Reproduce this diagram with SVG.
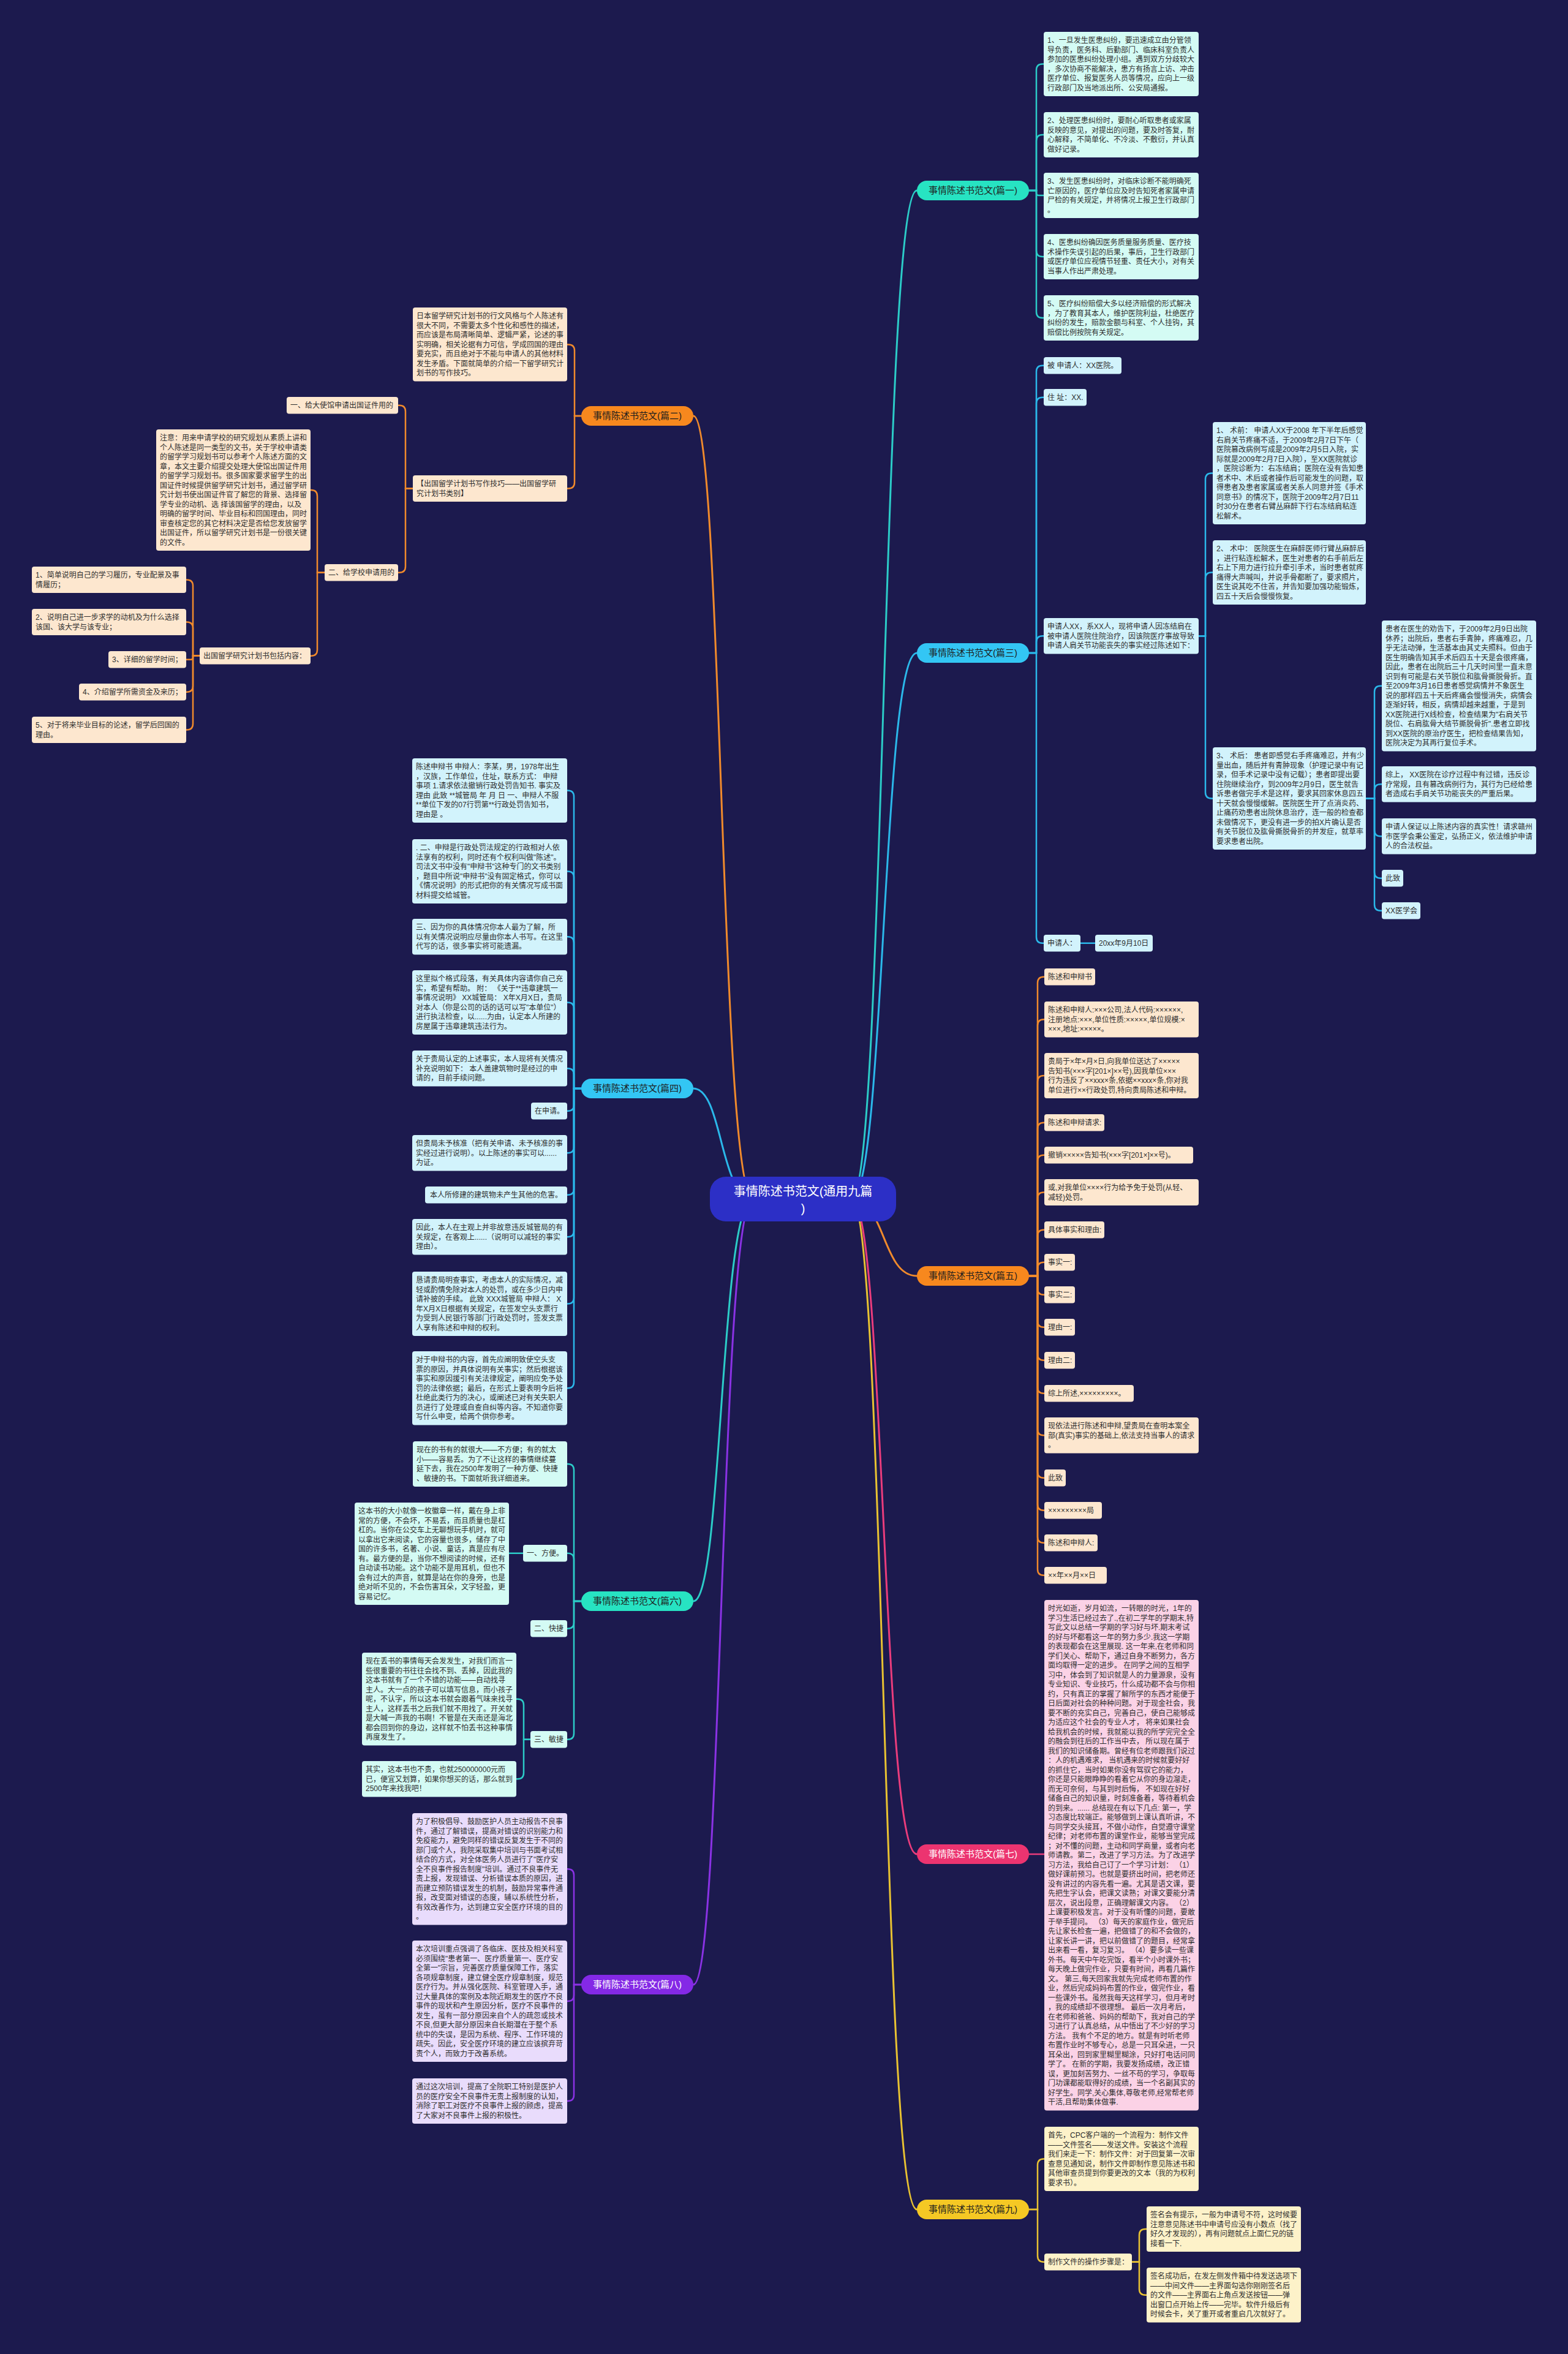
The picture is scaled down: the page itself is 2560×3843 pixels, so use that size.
<svg xmlns="http://www.w3.org/2000/svg" width="2560" height="3843" viewBox="0 0 2560 3843">
<style>
text{font-family:"Liberation Sans","Noto Sans CJK SC",sans-serif}
.t{font-size:12px;fill:#2e2e2e}
.pt{font-size:15px;text-anchor:middle;fill:#1e1e1e}
.pw{fill:#ffffff}
.ct{font-size:20px;text-anchor:middle;fill:#ffffff}
.c{fill:none;stroke-width:2.5;stroke-linecap:round}
.m{fill:none;stroke-width:3;stroke-linecap:round}
.so{stroke:#f08a2c}.sb{stroke:#2bb8ea}.sm{stroke:#2cccc8}.sp{stroke:#ea3c7c}.sv{stroke:#8a32e4}.sy{stroke:#e8c232}
.lo{fill:#fde7cf}.lb{fill:#d2f3fc}.lm{fill:#d4fbf4}.lp{fill:#fbd2e6}.lv{fill:#e9dcfc}.ly{fill:#fdf2c9}
.po{fill:#f7881e}.pb{fill:#33c6f4}.pm{fill:#27e3c2}.pp{fill:#ec3470}.pv{fill:#8429e6}.py{fill:#f5c824}
</style>
<rect width="2560" height="3843" fill="#1c1a4e"/>

<g id="connectors">
<!-- main branches -->
<path class="m sm" d="M1390 1957 C1445 1957 1440 311 1497 311"/>
<path class="m sb" d="M1390 1957 C1445 1957 1440 1066 1497 1066"/>
<path class="m so" d="M1390 1957 C1445 1957 1440 2083 1497 2083"/>
<path class="m sp" d="M1390 1957 C1445 1957 1440 3027 1497 3027"/>
<path class="m sy" d="M1390 1957 C1445 1957 1440 3607 1497 3607"/>
<path class="m so" d="M1230 1957 C1175 1957 1180 679 1132 679"/>
<path class="m sb" d="M1230 1957 C1175 1957 1180 1777 1132 1777"/>
<path class="m sm" d="M1230 1957 C1175 1957 1180 2614 1132 2614"/>
<path class="m sv" d="M1230 1957 C1175 1957 1180 3240 1132 3240"/>

<!-- 篇一 -->
<path class="c sm" d="M1680 311 H1692 V114.5 Q1692 104.5 1702 104.5 H1704"/>
<path class="c sm" d="M1680 311 H1692 V230 Q1692 220 1702 220 H1704"/>
<path class="c sm" d="M1680 311 H1692 V315 Q1692 319 1696 319 H1704"/>
<path class="c sm" d="M1680 311 H1692 V409 Q1692 419 1702 419 H1704"/>
<path class="c sm" d="M1680 311 H1692 V509 Q1692 519 1702 519 H1704"/>

<!-- 篇二 -->
<path class="c so" d="M949 679 H938 V572.5 Q938 562.5 928 562.5 H926"/>
<path class="c so" d="M949 679 H938 V787.5 Q938 797.5 928 797.5 H926"/>
<path class="c so" d="M674 797.5 H662 V671.75 Q662 661.75 652 661.75 H650"/>
<path class="c so" d="M674 797.5 H662 V924.75 Q662 934.75 652 934.75 H650"/>
<path class="c so" d="M530 934.75 H518 V810 Q518 800 508 800 H507"/>
<path class="c so" d="M530 934.75 H518 V1060.75 Q518 1070.75 508 1070.75 H507"/>
<path class="c so" d="M326 1070.75 H315 V956.5 Q315 946.5 305 946.5 H304"/>
<path class="c so" d="M326 1070.75 H315 V1025.5 Q315 1015.5 305 1015.5 H304"/>
<path class="c so" d="M326 1070.75 H315 V1073.75 Q315 1076.75 312 1076.75 H304"/>
<path class="c so" d="M326 1070.75 H315 V1119.75 Q315 1129.75 305 1129.75 H304"/>
<path class="c so" d="M326 1070.75 H315 V1181.5 Q315 1191.5 305 1191.5 H304"/>

<!-- 篇三 -->
<path class="c sb" d="M1680 1066 H1692 V606.75 Q1692 596.75 1702 596.75 H1704"/>
<path class="c sb" d="M1680 1066 H1692 V658.75 Q1692 648.75 1702 648.75 H1704"/>
<path class="c sb" d="M1680 1066 H1692 V1048.25 Q1692 1038.25 1702 1038.25 H1704"/>
<path class="c sb" d="M1680 1066 H1692 V1529.75 Q1692 1539.75 1702 1539.75 H1704"/>
<path class="c sb" d="M1764 1539.75 H1788"/>
<path class="c sb" d="M1957 1038.25 H1968 V782.5 Q1968 772.5 1978 772.5 H1980"/>
<path class="c sb" d="M1957 1038.25 H1968 V944.5 Q1968 934.5 1978 934.5 H1980"/>
<path class="c sb" d="M1957 1038.25 H1968 V1293.5 Q1968 1303.5 1978 1303.5 H1980"/>
<path class="c sb" d="M2230 1303.5 H2244 V1129.75 Q2244 1119.75 2254 1119.75 H2256"/>
<path class="c sb" d="M2230 1303.5 H2244 V1290.25 Q2244 1280.25 2254 1280.25 H2256"/>
<path class="c sb" d="M2230 1303.5 H2244 V1355.25 Q2244 1365.25 2254 1365.25 H2256"/>
<path class="c sb" d="M2230 1303.5 H2244 V1423.75 Q2244 1433.75 2254 1433.75 H2256"/>
<path class="c sb" d="M2230 1303.5 H2244 V1476.75 Q2244 1486.75 2254 1486.75 H2256"/>

<!-- 篇四 -->
<path class="c sb" d="M949 1777 H937 V1300.5 Q937 1290.5 927 1290.5 H926"/>
<path class="c sb" d="M949 1777 H937 V1432.5 Q937 1422.5 927 1422.5 H926"/>
<path class="c sb" d="M949 1777 H937 V1539.25 Q937 1529.25 927 1529.25 H926"/>
<path class="c sb" d="M949 1777 H937 V1646.5 Q937 1636.5 927 1636.5 H926"/>
<path class="c sb" d="M949 1777 H937 V1754.25 Q937 1744.25 927 1744.25 H926"/>
<path class="c sb" d="M949 1777 H937 V1803.75 Q937 1813.75 927 1813.75 H926"/>
<path class="c sb" d="M949 1777 H937 V1872.25 Q937 1882.25 927 1882.25 H926"/>
<path class="c sb" d="M949 1777 H937 V1940.75 Q937 1950.75 927 1950.75 H926"/>
<path class="c sb" d="M949 1777 H937 V2009.25 Q937 2019.25 927 2019.25 H926"/>
<path class="c sb" d="M949 1777 H937 V2118.5 Q937 2128.5 927 2128.5 H926"/>
<path class="c sb" d="M949 1777 H937 V2256.25 Q937 2266.25 927 2266.25 H926"/>

<!-- 篇五 -->
<path class="c so" d="M1680 2083 H1694 V1604.75 Q1694 1594.75 1704 1594.75 H1705"/>
<path class="c so" d="M1680 2083 H1694 V1674.25 Q1694 1664.25 1704 1664.25 H1705"/>
<path class="c so" d="M1680 2083 H1694 V1766 Q1694 1756 1704 1756 H1705"/>
<path class="c so" d="M1680 2083 H1694 V1842.75 Q1694 1832.75 1704 1832.75 H1705"/>
<path class="c so" d="M1680 2083 H1694 V1895.75 Q1694 1885.75 1704 1885.75 H1705"/>
<path class="c so" d="M1680 2083 H1694 V1956.5 Q1694 1946.5 1704 1946.5 H1705"/>
<path class="c so" d="M1680 2083 H1694 V2017.75 Q1694 2007.75 1704 2007.75 H1705"/>
<path class="c so" d="M1680 2083 H1694 V2070.75 Q1694 2060.75 1704 2060.75 H1705"/>
<path class="c so" d="M1680 2083 H1694 V2103.75 Q1694 2113.75 1704 2113.75 H1705"/>
<path class="c so" d="M1680 2083 H1694 V2156.75 Q1694 2166.75 1704 2166.75 H1705"/>
<path class="c so" d="M1680 2083 H1694 V2210.75 Q1694 2220.75 1704 2220.75 H1705"/>
<path class="c so" d="M1680 2083 H1694 V2264.75 Q1694 2274.75 1704 2274.75 H1705"/>
<path class="c so" d="M1680 2083 H1694 V2333.25 Q1694 2343.25 1704 2343.25 H1705"/>
<path class="c so" d="M1680 2083 H1694 V2402.75 Q1694 2412.75 1704 2412.75 H1705"/>
<path class="c so" d="M1680 2083 H1694 V2455.75 Q1694 2465.75 1704 2465.75 H1705"/>
<path class="c so" d="M1680 2083 H1694 V2508.75 Q1694 2518.75 1704 2518.75 H1705"/>
<path class="c so" d="M1680 2083 H1694 V2561.75 Q1694 2571.75 1704 2571.75 H1705"/>

<!-- 篇六 -->
<path class="c sm" d="M949 2614 H937 V2400 Q937 2390 927 2390 H926"/>
<path class="c sm" d="M949 2614 H937 V2545.75 Q937 2535.75 927 2535.75 H926"/>
<path class="c sm" d="M949 2614 H937 V2648.75 Q937 2658.75 927 2658.75 H926"/>
<path class="c sm" d="M949 2614 H937 V2829.75 Q937 2839.75 927 2839.75 H926"/>
<path class="c sm" d="M854 2535.75 H831"/>
<path class="c sm" d="M866 2839.75 H855 V2783.75 Q855 2773.75 845 2773.75 H843"/>
<path class="c sm" d="M866 2839.75 H855 V2894.25 Q855 2904.25 845 2904.25 H843"/>

<!-- 篇七 -->
<path class="c sp" d="M1680 3027 H1705"/>

<!-- 篇八 -->
<path class="c sv" d="M949 3240 H937 V3061.25 Q937 3051.25 927 3051.25 H926"/>
<path class="c sv" d="M949 3240 H937 V3257 Q937 3267 927 3267 H926"/>
<path class="c sv" d="M949 3240 H937 V3420 Q937 3430 927 3430 H926"/>

<!-- 篇九 -->
<path class="c sy" d="M1680 3607 H1694 V3534.5 Q1694 3524.5 1704 3524.5 H1705"/>
<path class="c sy" d="M1680 3607 H1694 V3682.75 Q1694 3692.75 1704 3692.75 H1705"/>
<path class="c sy" d="M1848 3692.75 H1860 V3649 Q1860 3639 1870 3639 H1872"/>
<path class="c sy" d="M1848 3692.75 H1860 V3736.75 Q1860 3746.75 1870 3746.75 H1872"/>
</g>

<!-- center -->
<g id="center">
<rect x="1159" y="1921" width="304" height="73" rx="26" fill="#2c2fc6"/>
<text class="ct" x="1311" y="1952">事情陈述书范文(通用九篇</text>
<text class="ct" x="1311" y="1980">)</text>
</g>

<!-- ===== 篇一 ===== -->
<g id="b1">
<rect class="pm" x="1497" y="295" width="183" height="32" rx="16"/>
<text class="pt" x="1588.5" y="316">事情陈述书范文(篇一)</text>
</g>
<g id="b1-1">
<rect class="lm" x="1704" y="52" width="253" height="105" rx="4"/>
<text class="t" y="70"><tspan x="1710">1、一旦发生医患纠纷，要迅速成立由分管领</tspan><tspan x="1710" dy="15.5">导负责，医务科、后勤部门、临床科室负责人</tspan><tspan x="1710" dy="15.5">参加的医患纠纷处理小组。遇到双方分歧较大</tspan><tspan x="1710" dy="15.5">，多次协商不能解决，患方有扬言上访、冲击</tspan><tspan x="1710" dy="15.5">医疗单位、报复医务人员等情况，应向上一级</tspan><tspan x="1710" dy="15.5">行政部门及当地派出所、公安局通报。</tspan></text>
</g>
<g id="b1-2">
<rect class="lm" x="1704" y="183" width="253" height="74" rx="4"/>
<text class="t" y="201"><tspan x="1710">2、处理医患纠纷时，要耐心听取患者或家属</tspan><tspan x="1710" dy="15.5">反映的意见，对提出的问题，要及时答复，耐</tspan><tspan x="1710" dy="15.5">心解释，不简单化、不冷淡、不敷衍，并认真</tspan><tspan x="1710" dy="15.5">做好记录。</tspan></text>
</g>
<g id="b1-3">
<rect class="lm" x="1704" y="282" width="253" height="74" rx="4"/>
<text class="t" y="300"><tspan x="1710">3、发生医患纠纷时，对临床诊断不能明确死</tspan><tspan x="1710" dy="15.5">亡原因的，医疗单位应及时告知死者家属申请</tspan><tspan x="1710" dy="15.5">尸检的有关规定，并将情况上报卫生行政部门</tspan><tspan x="1710" dy="15.5">。</tspan></text>
</g>
<g id="b1-4">
<rect class="lm" x="1704" y="382" width="253" height="74" rx="4"/>
<text class="t" y="400"><tspan x="1710">4、医患纠纷确因医务质量服务质量、医疗技</tspan><tspan x="1710" dy="15.5">术操作失误引起的后果，事后，卫生行政部门</tspan><tspan x="1710" dy="15.5">或医疗单位应视情节轻重、责任大小，对有关</tspan><tspan x="1710" dy="15.5">当事人作出严肃处理。</tspan></text>
</g>
<g id="b1-5">
<rect class="lm" x="1704" y="482" width="253" height="74" rx="4"/>
<text class="t" y="500"><tspan x="1710">5、医疗纠纷赔偿大多以经济赔偿的形式解决</tspan><tspan x="1710" dy="15.5">，为了教育其本人，维护医院利益，杜绝医疗</tspan><tspan x="1710" dy="15.5">纠纷的发生，赔款金额与科室、个人挂钩，其</tspan><tspan x="1710" dy="15.5">赔偿比例按院有关规定。</tspan></text>
</g>

<!-- ===== 篇二 ===== -->
<g id="b2">
<rect class="po" x="949" y="663" width="183" height="32" rx="16"/>
<text class="pt" x="1040.5" y="684">事情陈述书范文(篇二)</text>
</g>
<g id="b2-a">
<rect class="lo" x="674" y="502" width="252" height="120.5" rx="4"/>
<text class="t" y="520"><tspan x="680">日本留学研究计划书的行文风格与个人陈述有</tspan><tspan x="680" dy="15.5">很大不同，不需要太多个性化和感性的描述，</tspan><tspan x="680" dy="15.5">而应该是布局清晰简单、逻辑严紧，论述的事</tspan><tspan x="680" dy="15.5">实明确，相关论据有力可信，学成回国的理由</tspan><tspan x="680" dy="15.5">要充实，而且绝对于不能与申请人的其他材料</tspan><tspan x="680" dy="15.5">发生矛盾。下面就简单的介绍一下留学研究计</tspan><tspan x="680" dy="15.5">划书的写作技巧。</tspan></text>
</g>
<g id="b2-b">
<rect class="lo" x="674" y="776" width="252" height="43" rx="4"/>
<text class="t" y="794"><tspan x="680">【出国留学计划书写作技巧——出国留学研</tspan><tspan x="680" dy="15.5">究计划书类别】</tspan></text>
</g>
<g id="b2-b1">
<rect class="lo" x="468" y="648" width="182" height="27.5" rx="4"/>
<text class="t" x="474" y="666">一、给大使馆申请出国证件用的</text>
</g>
<g id="b2-b2">
<rect class="lo" x="530" y="921" width="120" height="27.5" rx="4"/>
<text class="t" x="536" y="939">二、给学校申请用的</text>
</g>
<g id="b2-c">
<rect class="lo" x="255" y="701" width="252" height="198" rx="4"/>
<text class="t" y="719"><tspan x="261">注意：用来申请学校的研究规划从素质上讲和</tspan><tspan x="261" dy="15.5">个人陈述是同一类型的文书，关于学校申请类</tspan><tspan x="261" dy="15.5">的留学学习规划书可以参考个人陈述方面的文</tspan><tspan x="261" dy="15.5">章，本文主要介绍提交处理大使馆出国证件用</tspan><tspan x="261" dy="15.5">的留学学习规划书。很多国家要求留学生的出</tspan><tspan x="261" dy="15.5">国证件时候提供留学研究计划书，通过留学研</tspan><tspan x="261" dy="15.5">究计划书使出国证件官了解您的背景、选择留</tspan><tspan x="261" dy="15.5">学专业的动机、选 择该国留学的理由，以及</tspan><tspan x="261" dy="15.5">明确的留学时间、毕业目标和回国理由，同时</tspan><tspan x="261" dy="15.5">审查核定您的其它材料决定是否给您发放留学</tspan><tspan x="261" dy="15.5">出国证件，所以留学研究计划书是一份很关键</tspan><tspan x="261" dy="15.5">的文件。</tspan></text>
</g>
<g id="b2-d">
<rect class="lo" x="326" y="1057" width="181" height="27.5" rx="4"/>
<text class="t" x="332" y="1075">出国留学研究计划书包括内容：</text>
</g>
<g id="b2-d1">
<rect class="lo" x="52" y="925" width="252" height="43" rx="4"/>
<text class="t" y="943"><tspan x="58">1、简单说明自己的学习履历，专业配景及事</tspan><tspan x="58" dy="15.5">情履历；</tspan></text>
</g>
<g id="b2-d2">
<rect class="lo" x="52" y="994" width="252" height="43" rx="4"/>
<text class="t" y="1012"><tspan x="58">2、说明自己进一步求学的动机及为什么选择</tspan><tspan x="58" dy="15.5">该国、该大学与该专业；</tspan></text>
</g>
<g id="b2-d3">
<rect class="lo" x="177" y="1063" width="127" height="27.5" rx="4"/>
<text class="t" x="183" y="1081">3、详细的留学时间；</text>
</g>
<g id="b2-d4">
<rect class="lo" x="129" y="1116" width="175" height="27.5" rx="4"/>
<text class="t" x="135" y="1134">4、介绍留学所需资金及来历；</text>
</g>
<g id="b2-d5">
<rect class="lo" x="52" y="1170" width="252" height="43" rx="4"/>
<text class="t" y="1188"><tspan x="58">5、对于将来毕业目标的论述，留学后回国的</tspan><tspan x="58" dy="15.5">理由。</tspan></text>
</g>

<!-- ===== 篇三 ===== -->
<g id="b3">
<rect class="pb" x="1497" y="1050" width="183" height="32" rx="16"/>
<text class="pt" x="1588.5" y="1071">事情陈述书范文(篇三)</text>
</g>
<g id="b3-1">
<rect class="lb" x="1704" y="583" width="127" height="27.5" rx="4"/>
<text class="t" x="1710" y="601">被 申请人：XX医院。</text>
</g>
<g id="b3-2">
<rect class="lb" x="1704" y="635" width="70" height="27.5" rx="4"/>
<text class="t" x="1710" y="653">住 址：XX.</text>
</g>
<g id="b3-3">
<rect class="lb" x="1704" y="1009" width="253" height="58.5" rx="4"/>
<text class="t" y="1027"><tspan x="1710">申请人XX，系XX人，现将申请人因冻结肩在</tspan><tspan x="1710" dy="15.5">被申请人医院住院治疗，因该院医疗事故导致</tspan><tspan x="1710" dy="15.5">申请人肩关节功能丧失的事实经过陈述如下：</tspan></text>
</g>
<g id="b3-4">
<rect class="lb" x="1704" y="1526" width="60" height="27.5" rx="4"/>
<text class="t" x="1710" y="1544">申请人：</text>
</g>
<g id="b3-5">
<rect class="lb" x="1788" y="1526" width="94" height="27.5" rx="4"/>
<text class="t" x="1794" y="1544">20xx年9月10日</text>
</g>
<g id="b3-6">
<rect class="lb" x="1980" y="689" width="250" height="167" rx="4"/>
<text class="t" y="707"><tspan x="1986">1、 术前： 申请人XX于2008 年下半年后感觉</tspan><tspan x="1986" dy="15.5">右肩关节疼痛不适，于2009年2月7日下午（</tspan><tspan x="1986" dy="15.5">医院篡改病例写成是2009年2月5日入院，实</tspan><tspan x="1986" dy="15.5">际就是2009年2月7日入院），至XX医院就诊</tspan><tspan x="1986" dy="15.5">，医院诊断为：右冻结肩；医院在没有告知患</tspan><tspan x="1986" dy="15.5">者术中、术后或者操作后可能发生的问题，取</tspan><tspan x="1986" dy="15.5">得患者及患者家属或者关系人同意并签《手术</tspan><tspan x="1986" dy="15.5">同意书》的情况下，医院于2009年2月7日11</tspan><tspan x="1986" dy="15.5">时30分在患者右臂丛麻醉下行右冻结肩粘连</tspan><tspan x="1986" dy="15.5">松解术。</tspan></text>
</g>
<g id="b3-7">
<rect class="lb" x="1980" y="882" width="250" height="105" rx="4"/>
<text class="t" y="900"><tspan x="1986">2、 术中： 医院医生在麻醉医师行臂丛麻醉后</tspan><tspan x="1986" dy="15.5">，进行粘连松解术，医生对患者的右手前后左</tspan><tspan x="1986" dy="15.5">右上下用力进行拉升牵引手术，当时患者就疼</tspan><tspan x="1986" dy="15.5">痛得大声喊叫，并说手骨都断了，要求照片，</tspan><tspan x="1986" dy="15.5">医生说其吃不住苦，并告知要加强功能锻炼，</tspan><tspan x="1986" dy="15.5">四五十天后会慢慢恢复。</tspan></text>
</g>
<g id="b3-8">
<rect class="lb" x="1980" y="1220" width="250" height="167" rx="4"/>
<text class="t" y="1238"><tspan x="1986">3、 术后： 患者即感觉右手疼痛难忍，并有少</tspan><tspan x="1986" dy="15.5">量出血，随后并有青肿现象（护理记录中有记</tspan><tspan x="1986" dy="15.5">录，但手术记录中没有记载）；患者即提出要</tspan><tspan x="1986" dy="15.5">住院继续治疗，到2009年2月9日，医生就告</tspan><tspan x="1986" dy="15.5">诉患者做完手术是这样，要求其回家休息四五</tspan><tspan x="1986" dy="15.5">十天就会慢慢缓解。医院医生开了点消炎药、</tspan><tspan x="1986" dy="15.5">止痛药劝患者出院休息治疗，连一般的检查都</tspan><tspan x="1986" dy="15.5">未做情况下，更没有进一步的拍X片确认是否</tspan><tspan x="1986" dy="15.5">有关节脱位及肱骨撕脱骨折的并发症，就草率</tspan><tspan x="1986" dy="15.5">要求患者出院。</tspan></text>
</g>
<g id="b3-9">
<rect class="lb" x="2256" y="1013" width="252" height="213.5" rx="4"/>
<text class="t" y="1031"><tspan x="2262">患者在医生的劝告下，于2009年2月9日出院</tspan><tspan x="2262" dy="15.5">休养；出院后，患者右手青肿，疼痛难忍，几</tspan><tspan x="2262" dy="15.5">乎无法动弹，生活基本由其丈夫照料。但由于</tspan><tspan x="2262" dy="15.5">医生明确告知其手术后四五十天是会很疼痛，</tspan><tspan x="2262" dy="15.5">因此，患者在出院后三十几天时间里一直未意</tspan><tspan x="2262" dy="15.5">识到有可能是右关节脱位和肱骨撕脱骨折。直</tspan><tspan x="2262" dy="15.5">至2009年3月16日患者感觉病情并不象医生</tspan><tspan x="2262" dy="15.5">说的那样四五十天后疼痛会慢慢消失，病情会</tspan><tspan x="2262" dy="15.5">逐渐好转，相反，病情却越来越重，于是到</tspan><tspan x="2262" dy="15.5">XX医院进行X线检查，检查结果为"右肩关节</tspan><tspan x="2262" dy="15.5">脱位、右肩肱骨大结节撕脱骨折".患者立即找</tspan><tspan x="2262" dy="15.5">到XX医院的原治疗医生，把检查结果告知，</tspan><tspan x="2262" dy="15.5">医院决定为其再行复位手术。</tspan></text>
</g>
<g id="b3-10">
<rect class="lb" x="2256" y="1251" width="252" height="58.5" rx="4"/>
<text class="t" y="1269"><tspan x="2262">综上， XX医院在诊疗过程中有过错，违反诊</tspan><tspan x="2262" dy="15.5">疗常规，且有篡改病例行为，其行为已经给患</tspan><tspan x="2262" dy="15.5">者造成右手肩关节功能丧失的严重后果。</tspan></text>
</g>
<g id="b3-11">
<rect class="lb" x="2256" y="1336" width="252" height="58.5" rx="4"/>
<text class="t" y="1354"><tspan x="2262">申请人保证以上陈述内容的真实性！请求赣州</tspan><tspan x="2262" dy="15.5">市医学会秉公鉴定，弘扬正义，依法维护申请</tspan><tspan x="2262" dy="15.5">人的合法权益。</tspan></text>
</g>
<g id="b3-12">
<rect class="lb" x="2256" y="1420" width="35" height="27.5" rx="4"/>
<text class="t" x="2262" y="1438">此致</text>
</g>
<g id="b3-13">
<rect class="lb" x="2256" y="1473" width="63" height="27.5" rx="4"/>
<text class="t" x="2262" y="1491">XX医学会</text>
</g>

<!-- ===== 篇四 ===== -->
<g id="b4">
<rect class="pb" x="949" y="1761" width="183" height="32" rx="16"/>
<text class="pt" x="1040.5" y="1782">事情陈述书范文(篇四)</text>
</g>
<g id="b4-1">
<rect class="lb" x="673" y="1238" width="253" height="105" rx="4"/>
<text class="t" y="1256"><tspan x="679"> 陈述申辩书 申辩人：李某，男，1978年出生</tspan><tspan x="679" dy="15.5">，汉族，工作单位，住址，联系方式： 申辩</tspan><tspan x="679" dy="15.5">事项 1.请求依法撤销行政处罚告知书. 事实及</tspan><tspan x="679" dy="15.5">理由 此致 **城管局 年 月 日 一、申辩人不服</tspan><tspan x="679" dy="15.5">**单位下发的07行罚第**行政处罚告知书，</tspan><tspan x="679" dy="15.5">理由是 。</tspan></text>
</g>
<g id="b4-2">
<rect class="lb" x="673" y="1370" width="253" height="105" rx="4"/>
<text class="t" y="1388"><tspan x="679">. 二、申辩是行政处罚法规定的行政相对人依</tspan><tspan x="679" dy="15.5">法享有的权利，同时还有个权利叫做"陈述"。</tspan><tspan x="679" dy="15.5">司法文书中没有"申辩书"这种专门的文书类别</tspan><tspan x="679" dy="15.5">，题目中所说"申辩书"没有固定格式，你可以</tspan><tspan x="679" dy="15.5">《情况说明》的形式把你的有关情况写成书面</tspan><tspan x="679" dy="15.5">材料提交给城管。</tspan></text>
</g>
<g id="b4-3">
<rect class="lb" x="673" y="1500" width="253" height="58.5" rx="4"/>
<text class="t" y="1518"><tspan x="679"> 三、因为你的具体情况你本人最为了解，所</tspan><tspan x="679" dy="15.5">以有关情况说明应尽量由你本人书写。在这里</tspan><tspan x="679" dy="15.5">代写的话，很多事实将可能遗漏。</tspan></text>
</g>
<g id="b4-4">
<rect class="lb" x="673" y="1584" width="253" height="105" rx="4"/>
<text class="t" y="1602"><tspan x="679">这里拟个格式段落，有关具体内容请你自己充</tspan><tspan x="679" dy="15.5">实，希望有帮助。 附： 《关于**违章建筑一</tspan><tspan x="679" dy="15.5">事情况说明》 XX城管局： X年X月X日，贵局</tspan><tspan x="679" dy="15.5">对本人（你是公司的话的话可以写"本单位"）</tspan><tspan x="679" dy="15.5">进行执法检查，以......为由，认定本人所建的</tspan><tspan x="679" dy="15.5">房屋属于违章建筑违法行为。</tspan></text>
</g>
<g id="b4-5">
<rect class="lb" x="673" y="1715" width="253" height="58.5" rx="4"/>
<text class="t" y="1733"><tspan x="679">关于贵局认定的上述事实，本人现将有关情况</tspan><tspan x="679" dy="15.5">补充说明如下： 本人盖建筑物时是经过的申</tspan><tspan x="679" dy="15.5">请的，目前手续问题。</tspan></text>
</g>
<g id="b4-6">
<rect class="lb" x="867" y="1800" width="59" height="27.5" rx="4"/>
<text class="t" x="873" y="1818">在申请。</text>
</g>
<g id="b4-7">
<rect class="lb" x="673" y="1853" width="253" height="58.5" rx="4"/>
<text class="t" y="1871"><tspan x="679">但贵局未予核准（把有关申请、未予核准的事</tspan><tspan x="679" dy="15.5">实经过进行说明）。以上陈述的事实可以......</tspan><tspan x="679" dy="15.5">为证。</tspan></text>
</g>
<g id="b4-8">
<rect class="lb" x="694" y="1937" width="232" height="27.5" rx="4"/>
<text class="t" x="702" y="1955">本人所修建的建筑物未产生其他的危害。</text>
</g>
<g id="b4-9">
<rect class="lb" x="673" y="1990" width="253" height="58.5" rx="4"/>
<text class="t" y="2008"><tspan x="679">因此，本人在主观上并非故意违反城管局的有</tspan><tspan x="679" dy="15.5">关规定，在客观上......（说明可以减轻的事实</tspan><tspan x="679" dy="15.5">理由）。</tspan></text>
</g>
<g id="b4-10">
<rect class="lb" x="673" y="2076" width="253" height="105" rx="4"/>
<text class="t" y="2094"><tspan x="679">恳请贵局明查事实，考虑本人的实际情况，减</tspan><tspan x="679" dy="15.5">轻或酌情免除对本人的处罚，或在多少日内申</tspan><tspan x="679" dy="15.5">请补披的手续。 此致 XXX城管局 申辩人： X</tspan><tspan x="679" dy="15.5">年X月X日根据有关规定，在签发空头支票行</tspan><tspan x="679" dy="15.5">为受到人民银行等部门行政处罚时，签发支票</tspan><tspan x="679" dy="15.5">人享有陈述和申辩的权利。</tspan></text>
</g>
<g id="b4-11">
<rect class="lb" x="673" y="2206" width="253" height="120.5" rx="4"/>
<text class="t" y="2224"><tspan x="679"> 对于申辩书的内容，首先应阐明致使空头支</tspan><tspan x="679" dy="15.5">票的原因，并具体说明有关事实；然后根据该</tspan><tspan x="679" dy="15.5">事实和原因援引有关法律规定，阐明应免予处</tspan><tspan x="679" dy="15.5">罚的法律依据；最后，在形式上要表明今后将</tspan><tspan x="679" dy="15.5">杜绝此类行为的决心，或阐述已对有关失职人</tspan><tspan x="679" dy="15.5">员进行了处理或自查自纠等内容。不知道你要</tspan><tspan x="679" dy="15.5">写什么申变，给两个供你参考。</tspan></text>
</g>

<!-- ===== 篇五 ===== -->
<g id="b5">
<rect class="po" x="1497" y="2067" width="183" height="32" rx="16"/>
<text class="pt" x="1588.5" y="2088">事情陈述书范文(篇五)</text>
</g>
<g id="b5-1"><rect class="lo" x="1705" y="1581" width="83" height="27.5" rx="4"/><text class="t" x="1711" y="1599">陈述和申辩书</text></g>
<g id="b5-2"><rect class="lo" x="1705" y="1635" width="252" height="58.5" rx="4"/>
<text class="t" y="1653"><tspan x="1711">陈述和申辩人:×××公司,法人代码:××××××,</tspan><tspan x="1711" dy="15.5">注册地点:×××,单位性质:×××××,单位规模:×</tspan><tspan x="1711" dy="15.5">×××,地址:×××××。</tspan></text></g>
<g id="b5-3"><rect class="lo" x="1705" y="1719" width="252" height="74" rx="4"/>
<text class="t" y="1737"><tspan x="1711">贵局于×年×月×日,向我单位送达了×××××</tspan><tspan x="1711" dy="15.5">告知书(×××字[201×]××号),因我单位×××</tspan><tspan x="1711" dy="15.5">行为违反了××xxx×条,依据××xxx×条,你对我</tspan><tspan x="1711" dy="15.5">单位进行××行政处罚,特向贵局陈述和申辩。</tspan></text></g>
<g id="b5-4"><rect class="lo" x="1705" y="1819" width="98" height="27.5" rx="4"/><text class="t" x="1711" y="1837">陈述和申辩请求:</text></g>
<g id="b5-5"><rect class="lo" x="1705" y="1872" width="243" height="27.5" rx="4"/><text class="t" x="1711" y="1890">撤销×××××告知书(×××字[201×]××号)。</text></g>
<g id="b5-6"><rect class="lo" x="1705" y="1925" width="252" height="43" rx="4"/>
<text class="t" y="1943"><tspan x="1711">或,对我单位××××行为给予免于处罚(从轻、</tspan><tspan x="1711" dy="15.5">减轻)处罚。</tspan></text></g>
<g id="b5-7"><rect class="lo" x="1705" y="1994" width="98" height="27.5" rx="4"/><text class="t" x="1711" y="2012">具体事实和理由:</text></g>
<g id="b5-8"><rect class="lo" x="1705" y="2047" width="50" height="27.5" rx="4"/><text class="t" x="1711" y="2065">事实一:</text></g>
<g id="b5-9"><rect class="lo" x="1705" y="2100" width="50" height="27.5" rx="4"/><text class="t" x="1711" y="2118">事实二:</text></g>
<g id="b5-10"><rect class="lo" x="1705" y="2153" width="50" height="27.5" rx="4"/><text class="t" x="1711" y="2171">理由一:</text></g>
<g id="b5-11"><rect class="lo" x="1705" y="2207" width="50" height="27.5" rx="4"/><text class="t" x="1711" y="2225">理由二:</text></g>
<g id="b5-12"><rect class="lo" x="1705" y="2261" width="146" height="27.5" rx="4"/><text class="t" x="1711" y="2279">综上所述,×××××××××。</text></g>
<g id="b5-13"><rect class="lo" x="1705" y="2314" width="252" height="58.5" rx="4"/>
<text class="t" y="2332"><tspan x="1711">现依法进行陈述和申辩,望贵局在查明本案全</tspan><tspan x="1711" dy="15.5">部(真实)事实的基础上,依法支持当事人的请求</tspan><tspan x="1711" dy="15.5">。</tspan></text></g>
<g id="b5-14"><rect class="lo" x="1705" y="2399" width="35" height="27.5" rx="4"/><text class="t" x="1711" y="2417">此致</text></g>
<g id="b5-15"><rect class="lo" x="1705" y="2452" width="94" height="27.5" rx="4"/><text class="t" x="1711" y="2470">×××××××××局</text></g>
<g id="b5-16"><rect class="lo" x="1705" y="2505" width="87" height="27.5" rx="4"/><text class="t" x="1711" y="2523">陈述和申辩人:</text></g>
<g id="b5-17"><rect class="lo" x="1705" y="2558" width="102" height="27.5" rx="4"/><text class="t" x="1711" y="2576">××年××月××日</text></g>

<!-- ===== 篇六 ===== -->
<g id="b6">
<rect class="pm" x="949" y="2598" width="183" height="32" rx="16"/>
<text class="pt" x="1040.5" y="2619">事情陈述书范文(篇六)</text>
</g>
<g id="b6-1"><rect class="lm" x="674" y="2353" width="252" height="74" rx="4"/>
<text class="t" y="2371"><tspan x="680">现在的书有的就很大——不方便；有的就太</tspan><tspan x="680" dy="15.5">小——容易丢。为了不让这样的事情继续蔓</tspan><tspan x="680" dy="15.5">延下去，我在2500年发明了一种方便、快捷</tspan><tspan x="680" dy="15.5">、敏捷的书。下面就听我详细道来。</tspan></text></g>
<g id="b6-2"><rect class="lm" x="854" y="2522" width="72" height="27.5" rx="4"/><text class="t" x="860" y="2540">一、方便。</text></g>
<g id="b6-3"><rect class="lm" x="866" y="2645" width="60" height="27.5" rx="4"/><text class="t" x="872" y="2663">二、快捷</text></g>
<g id="b6-4"><rect class="lm" x="866" y="2826" width="60" height="27.5" rx="4"/><text class="t" x="872" y="2844">三、敏捷</text></g>
<g id="b6-5"><rect class="lm" x="579" y="2453" width="252" height="167" rx="4"/>
<text class="t" y="2471"><tspan x="585">这本书的大小就像一枚徽章一样，戴在身上非</tspan><tspan x="585" dy="15.5">常的方便，不会坏，不易丢，而且质量也是杠</tspan><tspan x="585" dy="15.5">杠的。当你在公交车上无聊想玩手机时，就可</tspan><tspan x="585" dy="15.5">以拿出它来阅读，它的容量也很多，储存了中</tspan><tspan x="585" dy="15.5">国的许多书，名著、小说、童话，真是应有尽</tspan><tspan x="585" dy="15.5">有。最方便的是，当你不想阅读的时候，还有</tspan><tspan x="585" dy="15.5">自动读书功能。这个功能不是用耳机，但也不</tspan><tspan x="585" dy="15.5">会有过大的声音，就算是站在你的身旁，也是</tspan><tspan x="585" dy="15.5">绝对听不见的，不会伤害耳朵，文字轻盈，更</tspan><tspan x="585" dy="15.5">容易记忆。</tspan></text></g>
<g id="b6-6"><rect class="lm" x="591" y="2698" width="252" height="151.5" rx="4"/>
<text class="t" y="2716"><tspan x="597">现在丢书的事情每天会发发生，对我们而言一</tspan><tspan x="597" dy="15.5">些很重要的书往往会找不到、丢掉，因此我的</tspan><tspan x="597" dy="15.5">这本书就有了一个不错的功能——自动找寻</tspan><tspan x="597" dy="15.5">主人。大一点的孩子可以填写信息，而小孩子</tspan><tspan x="597" dy="15.5">呢，不认字，所以这本书就会跟着气味来找寻</tspan><tspan x="597" dy="15.5">主人，这样丢书之后我们就不用找了。开关就</tspan><tspan x="597" dy="15.5">是大喊一声我的书啊！不管是在天南还是海北</tspan><tspan x="597" dy="15.5">都会回到你的身边，这样就不怕丢书这种事情</tspan><tspan x="597" dy="15.5">再度发生了。</tspan></text></g>
<g id="b6-7"><rect class="lm" x="591" y="2875" width="252" height="58.5" rx="4"/>
<text class="t" y="2893"><tspan x="597">其实，这本书也不贵，也就250000000元而</tspan><tspan x="597" dy="15.5">已，便宜又划算，如果你想买的话，那么就到</tspan><tspan x="597" dy="15.5">2500年来找我吧！</tspan></text></g>

<!-- ===== 篇七 ===== -->
<g id="b7">
<rect class="pp" x="1497" y="3011" width="183" height="32" rx="16"/>
<text class="pt pw" x="1588.5" y="3032">事情陈述书范文(篇七)</text>
</g>
<g id="b7-1"><rect class="lp" x="1705" y="2612" width="252" height="833.5" rx="4"/>
<text class="t" y="2630"><tspan x="1711">时光如逝，岁月如流，一转眼的时光，1年的</tspan><tspan x="1711" dy="15.5">学习生活已经过去了.,在初二学年的学期末,特</tspan><tspan x="1711" dy="15.5">写此文以总结一学期的学习好与坏.期末考试</tspan><tspan x="1711" dy="15.5">的好与坏都看这一年的努力多少.我这一学期</tspan><tspan x="1711" dy="15.5">的表现都会在这里展现. 这一年来,在老师和同</tspan><tspan x="1711" dy="15.5">学们关心、帮助下，通过自身不断努力，各方</tspan><tspan x="1711" dy="15.5">面均取得一定的进步。 在同学之间的互相学</tspan><tspan x="1711" dy="15.5">习中，体会到了知识就是人的力量源泉，没有</tspan><tspan x="1711" dy="15.5">专业知识、专业技巧，什么成功都不会与你相</tspan><tspan x="1711" dy="15.5">约，只有真正的掌握了解所学的东西才能便于</tspan><tspan x="1711" dy="15.5">日后面对社会的种种问题。对于现金社会，我</tspan><tspan x="1711" dy="15.5">要不断的充实自己，完善自己，使自己能够成</tspan><tspan x="1711" dy="15.5">为适应这个社会的专业人才， 将来如果社会</tspan><tspan x="1711" dy="15.5">给我机会的时候，我就能以我的所学完完全全</tspan><tspan x="1711" dy="15.5">的融会到往后的工作当中去， 所以现在属于</tspan><tspan x="1711" dy="15.5">我们的知识储备期。曾经有位老师跟我们说过</tspan><tspan x="1711" dy="15.5">：人的机遇难求， 当机遇来的时候就要好好</tspan><tspan x="1711" dy="15.5">的抓住它，当时如果你没有驾驭它的能力，</tspan><tspan x="1711" dy="15.5">你还是只能眼睁睁的看着它从你的身边溜走，</tspan><tspan x="1711" dy="15.5">而无可奈何，与其到时后悔， 不如现在好好</tspan><tspan x="1711" dy="15.5">储备自己的知识量，时刻准备着，等待着机会</tspan><tspan x="1711" dy="15.5">的到来。...... 总结现在有以下几点: 第一，学</tspan><tspan x="1711" dy="15.5">习态度比较端正。能够做到上课认真听讲，不</tspan><tspan x="1711" dy="15.5">与同学交头接耳，不做小动作，自觉遵守课堂</tspan><tspan x="1711" dy="15.5">纪律；对老师布置的课堂作业，能够当堂完成</tspan><tspan x="1711" dy="15.5">；对不懂的问题，主动和同学商量，或者向老</tspan><tspan x="1711" dy="15.5">师请教。第二，改进了学习方法。为了改进学</tspan><tspan x="1711" dy="15.5">习方法，我给自己订了一个学习计划：  （1）</tspan><tspan x="1711" dy="15.5">做好课前预习。也就是要挤出时间，把老师还</tspan><tspan x="1711" dy="15.5">没有讲过的内容先看一遍。尤其是语文课，要</tspan><tspan x="1711" dy="15.5">先把生字认会，把课文读熟；对课文要能分清</tspan><tspan x="1711" dy="15.5">层次，说出段意，正确理解课文内容。  （2）</tspan><tspan x="1711" dy="15.5">上课要积极发言。对于没有听懂的问题，要敢</tspan><tspan x="1711" dy="15.5">于举手提问。  （3）每天的家庭作业，做完后</tspan><tspan x="1711" dy="15.5">先让家长检查一遍，把做错了的和不会做的，</tspan><tspan x="1711" dy="15.5">让家长讲一讲，把以前做错了的题目，经常拿</tspan><tspan x="1711" dy="15.5">出来看一看，复习复习。  （4）要多读一些课</tspan><tspan x="1711" dy="15.5">外书。每天中午吃完饭，看半个小时课外书；</tspan><tspan x="1711" dy="15.5">每天晚上做完作业，只要有时间，再看几篇作</tspan><tspan x="1711" dy="15.5">文。 第三,每天回家我就先完成老师布置的作</tspan><tspan x="1711" dy="15.5">业，然后完成妈妈布置的作业，做完作业，看</tspan><tspan x="1711" dy="15.5">一些课外书。虽然我每天这样学习，但月考时</tspan><tspan x="1711" dy="15.5">，我的成绩却不很理想。 最后一次月考后，</tspan><tspan x="1711" dy="15.5">在老师和爸爸、妈妈的帮助下，我对自己的学</tspan><tspan x="1711" dy="15.5">习进行了认真总结，从中悟出了不少好的学习</tspan><tspan x="1711" dy="15.5">方法。 我有个不足的地方。就是有时听老师</tspan><tspan x="1711" dy="15.5">布置作业时不够专心，总是一只耳朵进，一只</tspan><tspan x="1711" dy="15.5">耳朵出，回到家里糊里糊涂，只好打电话问同</tspan><tspan x="1711" dy="15.5">学了。 在新的学期，我要发扬成绩，改正错</tspan><tspan x="1711" dy="15.5">误，更加刻苦努力、一丝不苟的学习，争取每</tspan><tspan x="1711" dy="15.5">门功课都能取得好的成绩，当一个名副其实的</tspan><tspan x="1711" dy="15.5">好学生。同学,关心集体,尊敬老师,经常帮老师</tspan><tspan x="1711" dy="15.5">干活,且帮助集体做事.</tspan></text></g>

<!-- ===== 篇八 ===== -->
<g id="b8">
<rect class="pv" x="949" y="3224" width="183" height="32" rx="16"/>
<text class="pt pw" x="1040.5" y="3245">事情陈述书范文(篇八)</text>
</g>
<g id="b8-1"><rect class="lv" x="673" y="2960" width="253" height="182.5" rx="4"/>
<text class="t" y="2978"><tspan x="679">为了积极倡导、鼓励医护人员主动报告不良事</tspan><tspan x="679" dy="15.5">件，通过了解错误，提高对错误的识别能力和</tspan><tspan x="679" dy="15.5">免疫能力，避免同样的错误反复发生于不同的</tspan><tspan x="679" dy="15.5">部门或个人，我院采取集中培训与书面考试相</tspan><tspan x="679" dy="15.5">结合的方式，对全体医务人员进行了"医疗安</tspan><tspan x="679" dy="15.5">全不良事件报告制度"培训。通过不良事件无</tspan><tspan x="679" dy="15.5">责上报，发现错误、分析错误本质的原因，进</tspan><tspan x="679" dy="15.5">而建立预防错误发生的机制，鼓励异常事件通</tspan><tspan x="679" dy="15.5">报，改变面对错误的态度，辅以系统性分析，</tspan><tspan x="679" dy="15.5">有效改善作为，达到建立安全医疗环境的目的</tspan><tspan x="679" dy="15.5">。</tspan></text></g>
<g id="b8-2"><rect class="lv" x="673" y="3168" width="253" height="198" rx="4"/>
<text class="t" y="3186"><tspan x="679">本次培训重点强调了各临床、医技及相关科室</tspan><tspan x="679" dy="15.5">必须围绕"患者第一、医疗质量第一、医疗安</tspan><tspan x="679" dy="15.5">全第一"宗旨，完善医疗质量保障工作，落实</tspan><tspan x="679" dy="15.5">各项规章制度，建立健全医疗规章制度，规范</tspan><tspan x="679" dy="15.5">医疗行为。并从强化医院、科室管理入手，通</tspan><tspan x="679" dy="15.5">过大量具体的案例及本院近期发生的医疗不良</tspan><tspan x="679" dy="15.5">事件的现状和产生原因分析，医疗不良事件的</tspan><tspan x="679" dy="15.5">发生，虽有一部分原因来自个人的疏忽或技术</tspan><tspan x="679" dy="15.5">不良,但更大部分原因来自长期潜在于整个系</tspan><tspan x="679" dy="15.5">统中的失误，是因为系统、程序、工作环境的</tspan><tspan x="679" dy="15.5">疏失。因此，安全医疗环境的建立应该摈弃苛</tspan><tspan x="679" dy="15.5">责个人，而致力于改善系统。</tspan></text></g>
<g id="b8-3"><rect class="lv" x="673" y="3393" width="253" height="74" rx="4"/>
<text class="t" y="3411"><tspan x="679">通过这次培训，提高了全院职工特别是医护人</tspan><tspan x="679" dy="15.5">员的医疗安全不良事件无责上报制度的认知，</tspan><tspan x="679" dy="15.5">消除了职工对医疗不良事件上报的顾虑，提高</tspan><tspan x="679" dy="15.5">了大家对不良事件上报的积极性。</tspan></text></g>

<!-- ===== 篇九 ===== -->
<g id="b9">
<rect class="py" x="1497" y="3591" width="183" height="32" rx="16"/>
<text class="pt" x="1588.5" y="3612">事情陈述书范文(篇九)</text>
</g>
<g id="b9-1"><rect class="ly" x="1705" y="3472" width="252" height="105" rx="4"/>
<text class="t" y="3490"><tspan x="1711">首先，CPC客户端的一个流程为：制作文件</tspan><tspan x="1711" dy="15.5">——文件签名——发送文件。安装这个流程</tspan><tspan x="1711" dy="15.5">我们来走一下：制作文件：对于回复第一次审</tspan><tspan x="1711" dy="15.5">查意见通知说，制作文件即制作意见陈述书和</tspan><tspan x="1711" dy="15.5">其他审查员提到你要更改的文本（我的为权利</tspan><tspan x="1711" dy="15.5">要求书）。</tspan></text></g>
<g id="b9-2"><rect class="ly" x="1705" y="3679" width="143" height="27.5" rx="4"/><text class="t" x="1711" y="3697">制作文件的操作步骤是：</text></g>
<g id="b9-3"><rect class="ly" x="1872" y="3602" width="252" height="74" rx="4"/>
<text class="t" y="3620"><tspan x="1878">签名会有提示，一般为申请号不符，这时候要</tspan><tspan x="1878" dy="15.5">注意意见陈述书中申请号应没有小数点（找了</tspan><tspan x="1878" dy="15.5">好久才发现的），再有问题就点上面仁兄的链</tspan><tspan x="1878" dy="15.5">接看一下.</tspan></text></g>
<g id="b9-4"><rect class="ly" x="1872" y="3702" width="252" height="89.5" rx="4"/>
<text class="t" y="3720"><tspan x="1878">签名成功后，在发左侧发件箱中待发送选项下</tspan><tspan x="1878" dy="15.5">——中间文件——主界面勾选你刚刚签名后</tspan><tspan x="1878" dy="15.5">的文件——主界面右上角点发送按钮——弹</tspan><tspan x="1878" dy="15.5">出窗口点开始上传——完毕。软件升级后有</tspan><tspan x="1878" dy="15.5">时候会卡，关了重开或者重启几次就好了。</tspan></text></g>
</svg>
